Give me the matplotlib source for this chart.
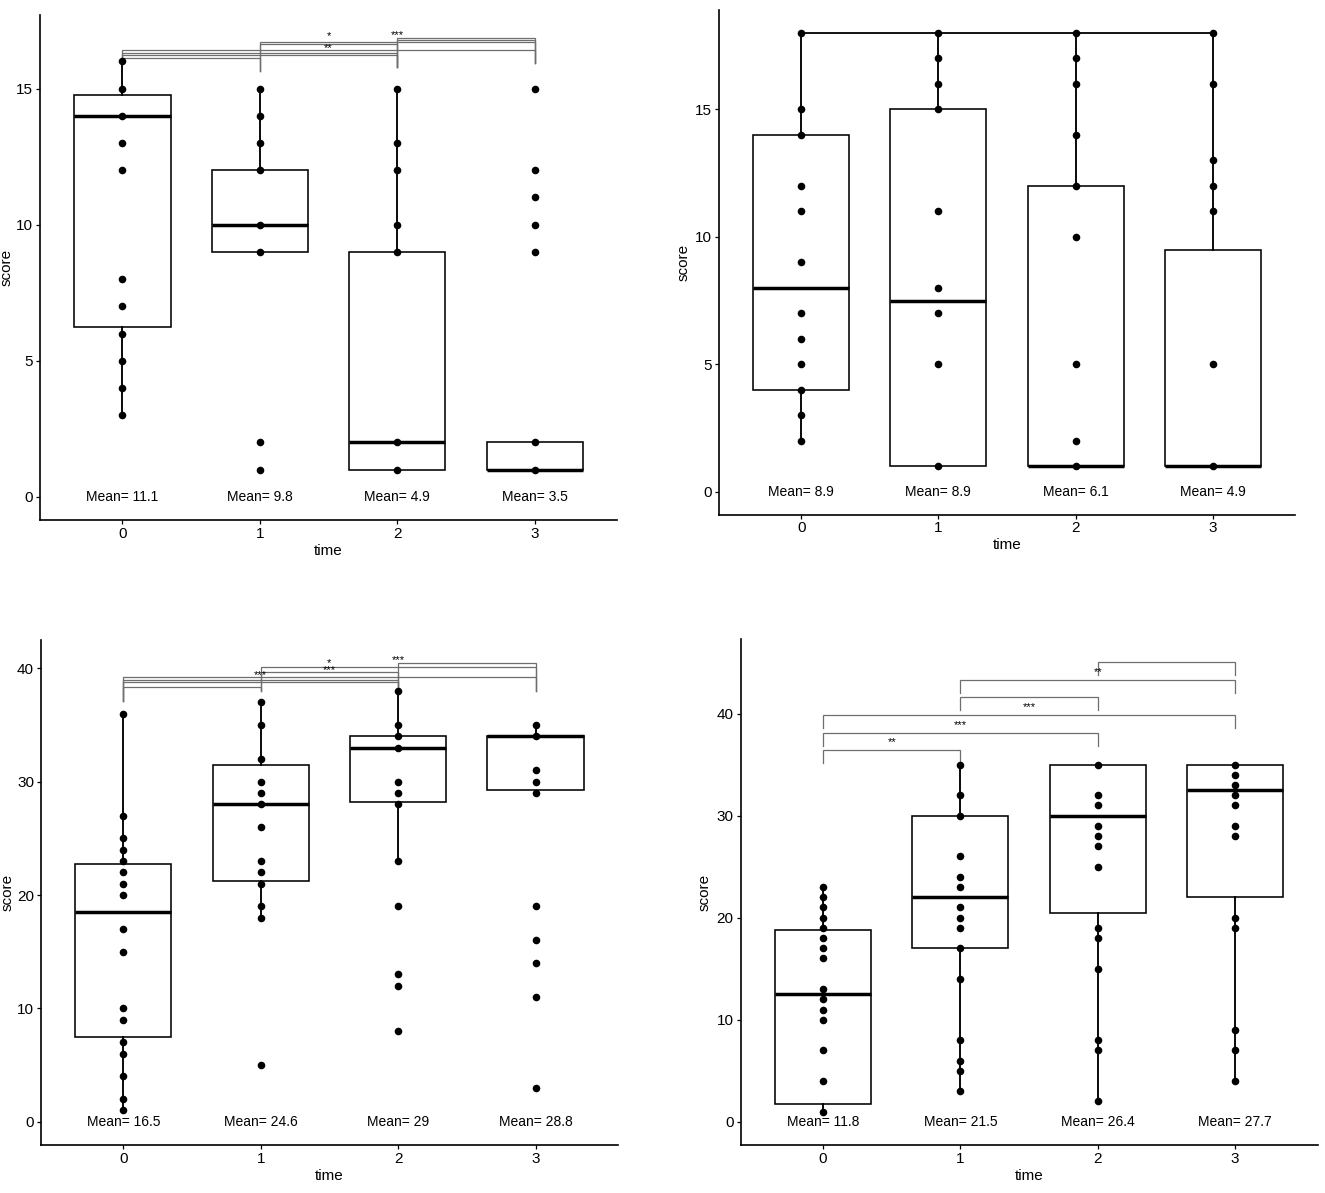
import matplotlib
matplotlib.use("Agg")
import matplotlib.pyplot as plt

plt.rcParams['font.family'] = ['Liberation Sans', 'DejaVu Sans']

times = [0, 1, 2, 3]
time_labels = ["0", "1", "2", "3"]

# ---------- Panel A (top-left) ----------
a_points = [
    [3, 4, 5, 6, 7, 8, 12, 13, 14, 15, 16],
    [1, 2, 9, 10, 12, 13, 14, 15],
    [1, 2, 9, 10, 12, 13, 15],
    [1, 2, 9, 10, 11, 12, 15],
]
a_q1 = [6.25, 9, 1, 1]
a_med = [14, 10, 2, 1]
a_q3 = [14.75, 12, 9, 2]
a_wlo = [3, 9, 1, 1]
a_whi = [16, 15, 15, 2]
a_means = ["11.1", "9.8", "4.9", "3.5"]
a_yticks = [0, 5, 10, 15]
a_ylim = (-0.85, 17.7)
a_tip_bottom = [16.01, 15.65, 15.80, 15.95]
a_brackets = [(0, 1, 16.11), (0, 2, 16.23), (0, 2, 16.32), (0, 3, 16.40),
              (1, 2, 16.62), (1, 3, 16.71), (2, 3, 16.78), (2, 3, 16.87)]
a_labels = [(1.5, 16.50, "**"), (1.5, 16.93, "*"), (2.0, 16.97, "***")]

# ---------- Panel B (top-right) ----------
b_points = [
    [2, 3, 4, 5, 6, 7, 9, 11, 12, 14, 15, 18],
    [1, 5, 7, 8, 11, 15, 16, 17, 18],
    [1, 2, 5, 10, 12, 14, 16, 17, 18],
    [1, 5, 11, 12, 13, 16, 18],
]
b_q1 = [4, 1, 1, 1]
b_med = [8, 7.5, 1, 1]
b_q3 = [14, 15, 12, 9.5]
b_wlo = [2, 1, 1, 1]
b_whi = [18, 18, 18, 18]
b_means = ["8.9", "8.9", "6.1", "4.9"]
b_yticks = [0, 5, 10, 15]
b_ylim = (-0.9, 18.9)
b_tip_bottom = [18, 18, 18, 18]
b_brackets = [(0, 3, 18.0)]
b_labels = []

# ---------- Panel C (bottom-left) ----------
c_points = [
    [1, 2, 4, 6, 7, 9, 10, 15, 17, 20, 21, 22, 23, 24, 25, 27, 36],
    [5, 18, 19, 21, 22, 23, 26, 28, 29, 30, 32, 35, 37],
    [8, 12, 13, 19, 23, 28, 29, 30, 33, 34, 35, 38],
    [3, 11, 14, 16, 19, 29, 30, 31, 34, 35],
]
c_q1 = [7.5, 21.25, 28.25, 29.25]
c_med = [18.5, 28, 33, 34]
c_q3 = [22.75, 31.5, 34, 34]
c_wlo = [1, 18, 23, 29.25]
c_whi = [36, 37, 38, 35]
c_means = ["16.5", "24.6", "29", "28.8"]
c_yticks = [0, 10, 20, 30, 40]
c_ylim = (-2.06, 42.5)
c_tip_bottom = [37.15, 38.0, 38.0, 38.0]
c_brackets = [(0, 1, 38.32), (0, 2, 38.76), (0, 2, 39.0), (0, 3, 39.26),
              (1, 2, 39.65), (1, 3, 40.12), (2, 3, 40.5)]
c_labels = [(1.0, 39.45, "***"), (1.5, 39.82, "***"), (1.5, 40.5, "*"), (2.0, 40.75, "***")]

# ---------- Panel D (bottom-right) ----------
d_points = [
    [1, 4, 7, 10, 11, 12, 13, 16, 17, 18, 19, 20, 21, 22, 23],
    [3, 5, 6, 8, 14, 17, 19, 20, 21, 23, 24, 26, 30, 32, 35],
    [2, 7, 8, 15, 18, 19, 25, 27, 28, 29, 31, 32, 35],
    [4, 7, 9, 19, 20, 28, 29, 31, 32, 33, 34, 35],
]
d_q1 = [1.75, 17, 20.5, 22]
d_med = [12.5, 22, 30, 32.5]
d_q3 = [18.75, 30, 35, 35]
d_wlo = [1, 3, 2, 4]
d_whi = [23, 35, 35, 35]
d_means = ["11.8", "21.5", "26.4", "27.7"]
d_yticks = [0, 10, 20, 30, 40]
d_ylim = (-2.28, 47.3)
d_brackets = [(0, 1, 36.46), (0, 2, 38.13), (0, 3, 39.9),
              (1, 2, 41.64), (1, 3, 43.34), (2, 3, 45.1)]
d_tip = 1.3
d_labels = [(0.5, 37.2, "**"), (1.0, 38.9, "***"), (1.5, 40.65, "***"), (2.0, 44.05, "**")]

fig = plt.figure(figsize=(13.25, 11.93), dpi=100)

positions = {
    "A": [0.0302, 0.5641, 0.4355, 0.4233],
    "B": [0.5426, 0.5687, 0.4347, 0.4229],
    "C": [0.0309, 0.0402, 0.4355, 0.4233],
    "D": [0.5589, 0.0402, 0.4355, 0.4241],
}
ylab_x = {"A": -0.045, "B": -0.05, "C": -0.045, "D": -0.051}


def draw_panel(key, pts, q1, med, q3, wlo, whi, means, yticks, ylim,
               brackets, labels, tip_bottom=None, tip_len=None, bcolor="#6e6e6e", blw=0.9):
    ax = fig.add_axes(positions[key])
    stats = []
    for i in range(len(times)):
        stats.append(dict(med=med[i], q1=q1[i], q3=q3[i], whislo=wlo[i], whishi=whi[i], fliers=[]))
    ax.bxp(stats, positions=times, widths=0.7, showfliers=False, showcaps=False,
           patch_artist=True,
           boxprops=dict(facecolor="white", edgecolor="black", linewidth=1.15),
           medianprops=dict(color="black", linewidth=2.5, solid_capstyle="butt"),
           whiskerprops=dict(color="black", linewidth=1.35),
           manage_ticks=False, zorder=2)
    for t, p in zip(times, pts):
        ax.scatter([t] * len(p), p, s=30, color="black", zorder=4, linewidths=0)
    for t, m in zip(times, means):
        ax.text(t, 0, "Mean= " + m, ha="center", va="center", fontsize=10, zorder=5)
    for (x1, x2, y) in brackets:
        if tip_bottom is not None:
            b1, b2 = tip_bottom[x1], tip_bottom[x2]
        else:
            b1, b2 = y - tip_len, y - tip_len
        ax.plot([times[x1], times[x1], times[x2], times[x2]], [b1, y, y, b2],
                color=bcolor, linewidth=blw, zorder=3, solid_joinstyle="miter")
    for (x, y, s) in labels:
        ax.text(x, y, s, ha="center", va="center", fontsize=8, zorder=5)
    ax.set_xlim(-0.6, 3.6)
    ax.set_ylim(*ylim)
    ax.set_xticks(times)
    ax.set_xticklabels(time_labels, fontsize=11)
    ax.set_yticks(yticks)
    ax.set_yticklabels([str(v) for v in yticks], fontsize=11)
    ax.tick_params(axis="both", length=3, width=0.9, color="black", pad=2)
    for s in ["top", "right"]:
        ax.spines[s].set_visible(False)
    for s in ["left", "bottom"]:
        ax.spines[s].set_linewidth(1.2)
    ax.set_xlabel("time", fontsize=11, labelpad=2)
    ax.set_ylabel("score", fontsize=11)
    ax.yaxis.set_label_coords(ylab_x[key], 0.5)
    return ax


draw_panel("A", a_points, a_q1, a_med, a_q3, a_wlo, a_whi, a_means, a_yticks, a_ylim,
           a_brackets, a_labels, tip_bottom=a_tip_bottom)
draw_panel("B", b_points, b_q1, b_med, b_q3, b_wlo, b_whi, b_means, b_yticks, b_ylim,
           b_brackets, b_labels, tip_bottom=b_tip_bottom, bcolor="black", blw=1.3)
draw_panel("C", c_points, c_q1, c_med, c_q3, c_wlo, c_whi, c_means, c_yticks, c_ylim,
           c_brackets, c_labels, tip_bottom=c_tip_bottom)
draw_panel("D", d_points, d_q1, d_med, d_q3, d_wlo, d_whi, d_means, d_yticks, d_ylim,
           d_brackets, d_labels, tip_len=d_tip)

fig.savefig("out.png", dpi=100)
